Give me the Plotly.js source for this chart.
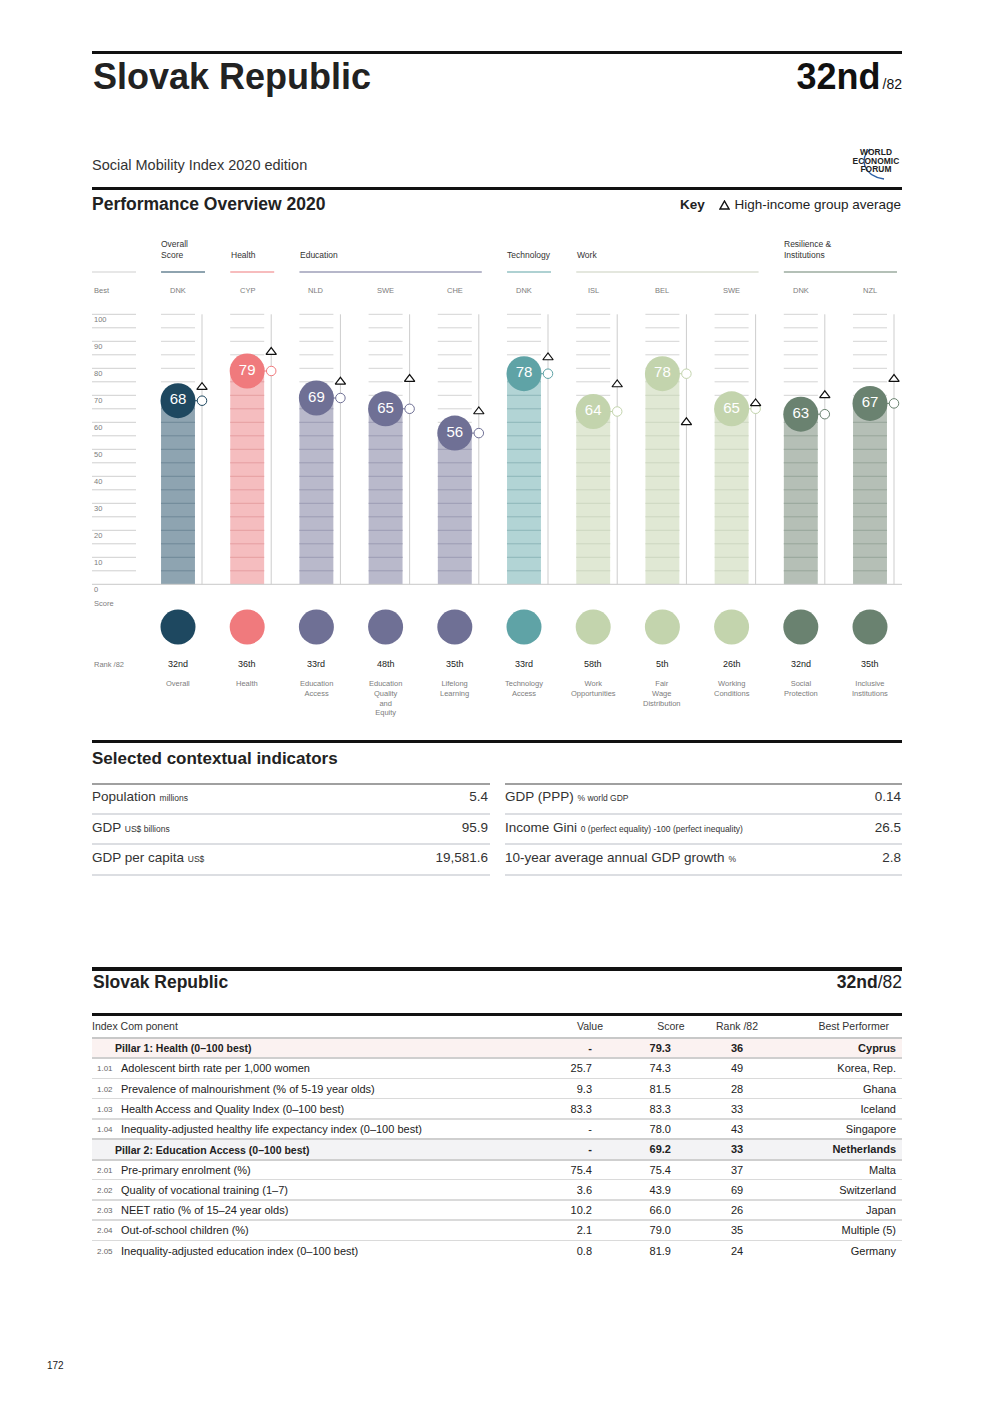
<!DOCTYPE html>
<html><head><meta charset="utf-8">
<script src="https://cdn.plot.ly/plotly-3.0.1.min.js"></script>
<style>
body{margin:0;width:992px;height:1403px;position:relative;font-family:'Liberation Sans',Arial,sans-serif;background:#fff;color:#222;overflow:hidden;}
.t{position:absolute;line-height:1;white-space:nowrap;}
.r{position:absolute;}
#chart{position:absolute;left:0;top:230px;width:992px;height:500px;}
</style></head><body>
<div id="chart"></div>
<script>
// ---------------- DATA ----------------
const country = 'Slovak Republic';
const overallRank = '32nd';
const totalCountries = '82';
const groupNames = ['Overall<br>Score','Health','Education','Technology','Work','Resilience &<br>Institutions'];
const groupStart = [0,1,2,5,6,9];
const groupEnd   = [0,1,4,5,8,10];
const pillarGroup = [0,1,2,2,2,3,4,4,4,5,5];
const pillarNames = ['Overall','Health','Education<br>Access','Education<br>Quality<br>and<br>Equity','Lifelong<br>Learning','Technology<br>Access','Work<br>Opportunities','Fair<br>Wage<br>Distribution','Working<br>Conditions','Social<br>Protection','Inclusive<br>Institutions'];
const bestPerformers = ['DNK','CYP','NLD','SWE','CHE','DNK','ISL','BEL','SWE','DNK','NZL'];
const scores = [68,79,69,65,56,78,64,78,65,63,67];
const highIncomeAvg = [73,86,75,76,64,84,74,60,67,70,76];
const ranks = ['32nd','36th','33rd','48th','35th','33rd','58th','5th','26th','32nd','35th'];
const axisTicks = [0,10,20,30,40,50,60,70,80,90,100];

const ctxLeftNames  = ['Population','GDP','GDP per capita'];
const ctxLeftUnits  = ['millions','US$ billions','US$'];
const ctxLeftValues = ['5.4','95.9','19,581.6'];
const ctxRightNames  = ['GDP (PPP)','Income Gini','10-year average annual GDP growth'];
const ctxRightUnits  = ['% world GDP','0 (perfect equality) -100 (perfect inequality)','%'];
const ctxRightValues = ['0.14','26.5','2.8'];

const tblCodes  = ['','1.01','1.02','1.03','1.04','','2.01','2.02','2.03','2.04','2.05'];
const tblNames  = ['Pillar 1: Health (0–100 best)','Adolescent birth rate per 1,000 women','Prevalence of malnourishment (% of 5-19 year olds)','Health Access and Quality Index (0–100 best)','Inequality-adjusted healthy life expectancy index (0–100 best)','Pillar 2: Education Access (0–100 best)','Pre-primary enrolment (%)','Quality of vocational training (1–7)','NEET ratio (% of 15–24 year olds)','Out-of-school children (%)','Inequality-adjusted education index (0–100 best)'];
const tblValues = ['-','25.7','9.3','83.3','-','-','75.4','3.6','10.2','2.1','0.8'];
const tblScores = ['79.3','74.3','81.5','83.3','78.0','69.2','75.4','43.9','66.0','79.0','81.9'];
const tblRanks  = ['36','49','28','33','43','33','37','69','26','35','24'];
const tblBest   = ['Cyprus','Korea, Rep.','Ghana','Iceland','Singapore','Netherlands','Malta','Switzerland','Japan','Multiple (5)','Germany'];
const tblPillar = [true,false,false,false,false,true,false,false,false,false,false];

// ---------------- STYLES ----------------
const circleColors = ['#1e4860','#f07a7d','#6f7095','#5fa3a6','#c3d4ad','#6a8270'];
const barColors    = ['#8ea4b1','#f5bdbf','#b9b9cb','#b2d4d5','#e0e8d4','#b5bfb6'];
const barLineColors= ['#6f8898','#e59ea1','#9c9cb3','#8db6b8','#ccd6c0','#97a69a'];
const headLineColors=['#1e4860','#f07a7d','#6f7095','#5fa3a6','#c9d0bd','#6a8270'];
const FONT = 'Liberation Sans, Arial, sans-serif';

// ---------------- HTML helpers ----------------
function txt(x, yc, html, size, o={}) {
  const d = document.createElement('div');
  d.className='t';
  d.style.fontSize=size+'px';
  d.style.top=(yc-0.49*size)+'px';
  if(o.align==='right'){d.style.right=(992-x)+'px';d.style.textAlign='right';}
  else if(o.align==='center'){d.style.left=(x-150)+'px';d.style.width='300px';d.style.textAlign='center';}
  else d.style.left=x+'px';
  if(o.bold) d.style.fontWeight='bold';
  d.style.color=o.color||'#222';
  if(o.ls) d.style.letterSpacing=o.ls;
  d.innerHTML=html;
  document.body.appendChild(d);
}
function rect(x,y,w,h,c){
  const d=document.createElement('div');d.className='r';
  d.style.left=x+'px';d.style.top=y+'px';d.style.width=w+'px';d.style.height=h+'px';d.style.background=c;
  document.body.appendChild(d);
}

// Header
rect(92,51,810,3,'#111');
txt(93,77,country,36,{bold:true,color:'#222'});
txt(902,77,overallRank+'<span style="font-size:14px;font-weight:normal;margin-left:2px;">/'+totalCountries+'</span>',36,{bold:true,align:'right',color:'#111'});
txt(92,165,'Social Mobility Index 2020 edition',14.5,{color:'#333'});
// WEF logo
(function(){
  const d=document.createElement('div');
  d.style.cssText='position:absolute;left:846px;top:146px;width:60px;height:38px;';
  d.innerHTML='<svg width="60" height="38" style="position:absolute;left:0;top:0"><path d="M24 3 C 13 12, 17 30, 38 33" stroke="#2a5fa6" stroke-width="1.4" fill="none"/></svg>'+
   '<div style="position:absolute;left:0;top:2px;width:60px;text-align:center;font:bold 8.4px/8.6px Liberation Sans,Arial;color:#222;letter-spacing:0.1px">WORLD<br>ECONOMIC<br>FORUM</div>';
  document.body.appendChild(d);
})();
rect(92,187,810,2.5,'#111');
txt(92,205,'Performance Overview 2020',17.5,{bold:true});
txt(680,205,'Key',13.5,{bold:true});
(function(){
  const d=document.createElement('div');
  d.style.cssText='position:absolute;left:719px;top:200px;line-height:0;';
  d.innerHTML='<svg width="11" height="10"><path d="M5.5 1 L10 9 L1 9 Z" stroke="#111" stroke-width="1.4" fill="#fff"/></svg>';
  document.body.appendChild(d);
})();
txt(901,205,'High-income group average',13.5,{align:'right',color:'#222'});

// Contextual indicators
rect(92,740,810,3,'#111');
txt(92,758,'Selected contextual indicators',17,{bold:true});
rect(92,783,398,2,'#a0a0a0');
rect(505,783,397,2,'#a0a0a0');
for(let i=0;i<3;i++){
  const yc=797+i*30.5;
  txt(92,yc,ctxLeftNames[i]+' <span style="font-size:8.5px">'+ctxLeftUnits[i]+'</span>',13.5,{color:'#333'});
  txt(488,yc,ctxLeftValues[i],13.5,{align:'right',color:'#333'});
  txt(505,yc,ctxRightNames[i]+' <span style="font-size:8.5px">'+ctxRightUnits[i]+'</span>',13.5,{color:'#333'});
  txt(901,yc,ctxRightValues[i],13.5,{align:'right',color:'#333'});
  rect(92,812.5+i*30.7,398,2,'#dcdee2');
  rect(505,812.5+i*30.7,397,2,'#dcdee2');
}

// Second section
rect(92,967,810,4,'#111');
txt(93,983,country,17.5,{bold:true});
txt(902,983,overallRank+'<span style="font-weight:normal">/'+totalCountries+'</span>',17.5,{bold:true,align:'right'});
rect(92,1013,810,3,'#111');
txt(92,1026,'Index Com ponent',10.5,{color:'#333'});
txt(590,1026,'Value',10.5,{align:'center',color:'#333'});
txt(671,1026,'Score',10.5,{align:'center',color:'#333'});
txt(737,1026,'Rank /82',10.5,{align:'center',color:'#333'});
txt(889,1026,'Best Performer',10.5,{align:'right',color:'#333'});
rect(92,1037,810,2,'#c8c8c8');
const P=20.25;
for(let i=0;i<tblNames.length;i++){
  const top=1039+i*P;
  if(tblPillar[i]) rect(92,top,810,P-2, i===0?'#fbf2f1':'#f3f3f5');
  const yc=top+9.5;
  const b=tblPillar[i];
  if(b){ txt(115,yc,tblNames[i],10.5,{bold:true}); }
  else { txt(97,yc+0.5,tblCodes[i],8,{color:'#666'}); txt(121,yc,tblNames[i],11,{color:'#222'}); }
  txt(592,yc,tblValues[i],11,{align:'right',bold:b});
  txt(671,yc,tblScores[i],11,{align:'right',bold:b});
  txt(737,yc,tblRanks[i],11,{align:'center',bold:b});
  txt(896,yc,tblBest[i],11,{align:'right',bold:b});
  if(i<tblNames.length-1) rect(92,top+P-2,810,(tblPillar[i]||tblPillar[i+1])?2:1.5,(tblPillar[i]||tblPillar[i+1])?'#cfcfcf':'#dadada');
}
txt(47,1366,'172',10,{color:'#222'});

// ---------------- PLOT ----------------
const X0=178, DX=69.2, Y0=584.3, DY=2.7, TOP=230, H=500;
const V = gy => (Y0-gy)/DY;
const XP = px => (px-X0)/DX;
const idx = scores.map((_,i)=>i);
const BW = 0.49, HALF=0.246, VL=0.347;

const traces=[];
// Best column grid
{ const xs=[],ys=[];
  for(let k=5;k<=100;k+=5){xs.push(XP(92),XP(136),null);ys.push(k,k,null);}
  traces.push({type:'scatter',mode:'lines',x:xs,y:ys,line:{color:'#cfcfcf',width:1},hoverinfo:'skip'});
}
// bars
traces.push({type:'bar',x:idx,y:scores,width:BW,marker:{color:idx.map(i=>barColors[pillarGroup[i]]),line:{width:0}},hoverinfo:'skip'});
// column grid lines (above bar gray, inside bar darker)
{ const xs=[],ys=[];
  idx.forEach(i=>{for(let k=5;k<=100;k+=5){ if(k>=scores[i]){xs.push(i-HALF,i+HALF,null);ys.push(k,k,null);} }});
  traces.push({type:'scatter',mode:'lines',x:xs,y:ys,line:{color:'#d4d4d4',width:1},hoverinfo:'skip'});
}
idx.forEach(i=>{
  const xs=[],ys=[];
  for(let k=5;k<scores[i];k+=5){xs.push(i-HALF,i+HALF,null);ys.push(k,k,null);}
  traces.push({type:'scatter',mode:'lines',x:xs,y:ys,line:{color:barLineColors[pillarGroup[i]],width:1},hoverinfo:'skip'});
});
// baseline
traces.push({type:'scatter',mode:'lines',x:[XP(92),XP(902)],y:[0,0],line:{color:'#c8c8c8',width:1},hoverinfo:'skip'});
// vertical lines
{ const xs=[],ys=[];
  idx.forEach(i=>{xs.push(i+VL,i+VL,null);ys.push(0,100,null);});
  traces.push({type:'scatter',mode:'lines',x:xs,y:ys,line:{color:'#cdcdcd',width:1},hoverinfo:'skip'});
}
// connectors
idx.forEach(i=>{
  traces.push({type:'scatter',mode:'lines',x:[i,i+VL],y:[scores[i],scores[i]],line:{color:circleColors[pillarGroup[i]],width:1},hoverinfo:'skip'});
});
// open markers
traces.push({type:'scatter',mode:'markers',x:idx.map(i=>i+VL),y:scores,
  marker:{symbol:'circle',size:9.5,color:'#fff',line:{color:idx.map(i=>circleColors[pillarGroup[i]]),width:1}},hoverinfo:'skip'});
// triangles
traces.push({type:'scatter',mode:'markers',x:idx.map(i=>i+VL),y:highIncomeAvg,
  marker:{symbol:'triangle-up',size:9,color:'#fff',line:{color:'#111',width:1.2}},hoverinfo:'skip'});
// big circles
traces.push({type:'scatter',mode:'markers+text',x:idx,y:scores,text:scores.map(String),textposition:'middle center',
  textfont:{family:FONT,size:15,color:'#fff'},
  marker:{size:35,color:idx.map(i=>circleColors[pillarGroup[i]]),line:{width:0}},hoverinfo:'skip'});
// bottom circles
traces.push({type:'scatter',mode:'markers',x:idx,y:idx.map(()=>V(627)),
  marker:{size:35,color:idx.map(i=>circleColors[pillarGroup[i]]),line:{width:0}},hoverinfo:'skip'});
// group header lines
{ const xs=[XP(92),XP(136)],ys=[V(272),V(272)];
  traces.push({type:'scatter',mode:'lines',x:xs,y:ys,line:{color:'#cfcfcf',width:1},hoverinfo:'skip'});
}
groupNames.forEach((g,j)=>{
  traces.push({type:'scatter',mode:'lines',x:[groupStart[j]-0.245,groupEnd[j]+0.39],y:[V(272),V(272)],
    line:{color:headLineColors[j],width:1.2},hoverinfo:'skip'});
});

const ann=[];
const gray='#7d7d7d';
axisTicks.forEach(k=>ann.push({x:XP(92),y:k,xanchor:'left',yanchor:'middle',yshift:-5.5,text:String(k),showarrow:false,font:{family:FONT,size:7.5,color:gray}}));
ann.push({x:XP(92),y:V(290),xanchor:'left',yanchor:'middle',text:'Best',showarrow:false,font:{family:FONT,size:7.5,color:gray}});
ann.push({x:XP(92),y:V(603),xanchor:'left',yanchor:'middle',text:'Score',showarrow:false,font:{family:FONT,size:7.5,color:gray}});
ann.push({x:XP(92),y:V(664),xanchor:'left',yanchor:'middle',text:'Rank /82',showarrow:false,font:{family:FONT,size:7.5,color:gray}});
groupNames.forEach((g,j)=>ann.push({x:groupStart[j]-0.27,y:V(262),xanchor:'left',yanchor:'bottom',align:'left',text:g,showarrow:false,font:{family:FONT,size:8.5,color:'#333'}}));
idx.forEach(i=>{
  ann.push({x:i,y:V(290),xanchor:'center',yanchor:'middle',text:bestPerformers[i],showarrow:false,font:{family:FONT,size:7.5,color:gray}});
  ann.push({x:i,y:V(664),xanchor:'center',yanchor:'middle',text:ranks[i],showarrow:false,font:{family:FONT,size:9,color:'#222'}});
  ann.push({x:i,y:V(677),xanchor:'center',yanchor:'top',text:pillarNames[i],showarrow:false,font:{family:FONT,size:7.5,color:gray}});
});

const layout={
  width:992,height:500,margin:{l:0,r:0,t:0,b:0},
  paper_bgcolor:'rgba(0,0,0,0)',plot_bgcolor:'rgba(0,0,0,0)',
  showlegend:false,
  xaxis:{range:[XP(0),XP(992)],visible:false,fixedrange:true},
  yaxis:{range:[V(TOP+H),V(TOP)],visible:false,fixedrange:true},
  annotations:ann,
  font:{family:FONT}
};
Plotly.newPlot('chart',traces,layout,{staticPlot:true,displayModeBar:false});
</script>
</body></html>
